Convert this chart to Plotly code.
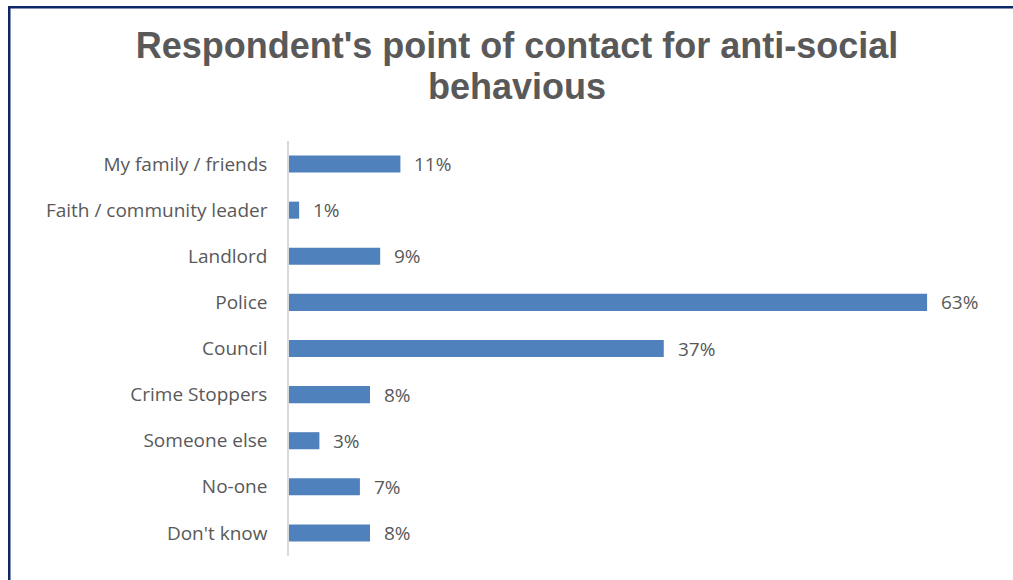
import plotly.graph_objects as go

# Survey responses: who respondents contact about anti-social behaviour
categories = [
    "My family / friends",
    "Faith / community leader",
    "Landlord",
    "Police",
    "Council",
    "Crime Stoppers",
    "Someone else",
    "No-one",
    "Don't know",
]
percentages = [11, 1, 9, 63, 37, 8, 3, 7, 8]
value_labels = [f"{v}%" for v in percentages]
title_lines = ["Respondent's point of contact for anti-social", "behavious"]

BAR_COLOR = "#4F81BD"
TEXT_GREY = "#595959"
FRAME_NAVY = "#0E2767"
LABEL_FONT = "'Open Sans', Lato, sans-serif"
TITLE_FONT = dict(family="Liberation Sans, Arial, sans-serif", size=36,
                  color=TEXT_GREY, weight="bold")

W, H = 1013, 580
L, R, T, B = 289, 15, 141, 24
pw, ph = W - L - R, H - T - B


def px_x(px):
    """page pixel column -> paper x"""
    return (px - L) / pw


def px_y(py):
    """page pixel row -> paper y"""
    return (H - B - py) / ph


fig = go.Figure(
    go.Bar(
        x=percentages,
        y=categories,
        orientation="h",
        marker=dict(color=BAR_COLOR, line=dict(width=0)),
        hoverinfo="skip",
    )
)

# value labels placed just past the end of each bar
for cat, val, lab in zip(categories, percentages, value_labels):
    fig.add_annotation(
        x=val, y=cat, text=lab, showarrow=False,
        xanchor="left", yanchor="middle", xshift=12,
        font=dict(family=LABEL_FONT, size=19, color=TEXT_GREY),
    )

# second title line, set a little tighter than the default line spacing
fig.add_annotation(
    xref="paper", yref="paper", x=px_x(517), y=px_y(86.5),
    text=title_lines[1], showarrow=False,
    xanchor="center", yanchor="middle", font=TITLE_FONT,
)

# dark outer frame: a bordered box whose right and bottom sides run off the page
fig.add_annotation(
    xref="paper", yref="paper", x=px_x(8), y=px_y(6),
    xanchor="left", yanchor="top",
    text="", showarrow=False,
    width=W + 60, height=H + 60,
    bordercolor=FRAME_NAVY, borderwidth=2.5, borderpad=0,
    bgcolor="rgba(0,0,0,0)",
)

fig.update_layout(
    width=W, height=H,
    margin=dict(l=L, r=R, t=T, b=B, pad=0),
    paper_bgcolor="white", plot_bgcolor="white",
    bargap=0.63,
    showlegend=False,
    title=dict(
        text=title_lines[0],
        x=517 / W, xanchor="center",
        y=1 - 45.5 / H, yanchor="middle",
        font=TITLE_FONT,
    ),
    xaxis=dict(range=[0, 70], visible=False, fixedrange=True),
    yaxis=dict(
        autorange="reversed",
        showline=True, linecolor="#D9D9D9", linewidth=1.5,
        showgrid=False, zeroline=False, ticks="",
        ticklabelstandoff=16,
        tickfont=dict(family=LABEL_FONT, size=19, color=TEXT_GREY),
    ),
)

fig.write_html("out.html")
